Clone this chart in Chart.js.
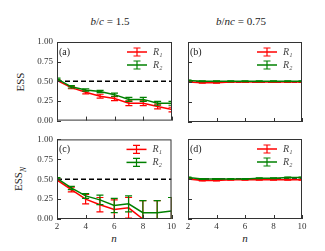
<!DOCTYPE html>
<html lang="en">
<head>
<meta charset="UTF-8">
<title>ESS panels</title>
<script src="https://cdn.jsdelivr.net/npm/chart.js"></script>
<style>
    body {
        margin: 0;
        width: 325px;
        height: 251px;
        background: #fff;
        position: relative;
        overflow: hidden;
        font-family: "Liberation Serif", "DejaVu Serif", serif;
        color: #222;
    }
    canvas { position: absolute; }
    .title {
        position: absolute;
        font-size: 11px;
        white-space: nowrap;
        transform: translate(-50%, -50%);
    }
    .ylab {
        position: absolute;
        font-size: 11px;
        white-space: nowrap;
        transform: translate(-50%, -50%) rotate(-90deg);
    }
    .ylab sub { font-size: 7.5px; }
</style>
</head>
<body>

<div class="title" style="left:110px; top:21px;"><i>b</i>/<i>c</i> = 1.5</div>
<div class="title" style="left:241px; top:21px;"><i>b</i>/<i>nc</i> = 0.75</div>
<div class="ylab" style="left:20px; top:82px;">ESS</div>
<div class="ylab" style="left:20px; top:179px;">ESS<sub><i>N</i></sub></div>
<div class="title" style="left:114px; top:238px;"><i>n</i></div>
<div class="title" style="left:245px; top:238px;"><i>n</i></div>

<canvas id="chartA" width="178" height="100" style="left:0; top:30px;"></canvas>
<canvas id="chartB" width="147" height="100" style="left:178px; top:30px;"></canvas>
<canvas id="chartC" width="178" height="121" style="left:0; top:130px;"></canvas>
<canvas id="chartD" width="147" height="121" style="left:178px; top:130px;"></canvas>

<script>
    // values
    const nValues = [2, 3, 4, 5, 6, 7, 8, 9, 10];
    const xTicks = [2, 4, 6, 8, 10];
    const yTicks = [0, 0.25, 0.5, 0.75, 1.0];
    const refLevel = 0.5;
    const seriesNames = ['R\u2081', 'R\u2082'];

    const essA_R1 = [0.51, 0.42, 0.36, 0.31, 0.28, 0.22, 0.22, 0.18, 0.14];
    const errA_R1 = [0.01, 0.015, 0.02, 0.025, 0.025, 0.03, 0.03, 0.03, 0.03];
    const essA_R2 = [0.53, 0.43, 0.39, 0.37, 0.33, 0.27, 0.27, 0.22, 0.22];
    const errA_R2 = [0.01, 0.015, 0.015, 0.015, 0.02, 0.025, 0.025, 0.025, 0.025];

    const essB_R1 = [0.50, 0.49, 0.49, 0.50, 0.50, 0.50, 0.50, 0.50, 0.50];
    const errB_R1 = [0.005, 0.005, 0.005, 0.005, 0.005, 0.005, 0.005, 0.005, 0.005];
    const essB_R2 = [0.52, 0.51, 0.51, 0.51, 0.51, 0.51, 0.51, 0.51, 0.51];
    const errB_R2 = [0.005, 0.005, 0.005, 0.005, 0.005, 0.005, 0.005, 0.005, 0.005];

    const essC_R1 = [0.49, 0.37, 0.25, 0.18, 0.12, 0.14, 0.0, 0.0, 0.0];
    const errC_R1 = [0.01, 0.03, 0.06, 0.09, 0.12, 0.13, 0.23, 0.23, 0.27];
    const essC_R2 = [0.51, 0.39, 0.29, 0.24, 0.17, 0.19, 0.08, 0.08, 0.10];
    const errC_R2 = [0.01, 0.02, 0.03, 0.06, 0.09, 0.10, 0.15, 0.15, 0.17];

    const essD_R1 = [0.50, 0.48, 0.48, 0.49, 0.49, 0.49, 0.49, 0.49, 0.49];
    const errD_R1 = [0.005, 0.005, 0.005, 0.005, 0.005, 0.005, 0.005, 0.005, 0.005];
    const essD_R2 = [0.52, 0.50, 0.50, 0.50, 0.50, 0.51, 0.51, 0.52, 0.52];
    const errD_R2 = [0.005, 0.005, 0.005, 0.005, 0.005, 0.005, 0.005, 0.005, 0.005];

    const RED = '#ff0000';
    const GREEN = '#008000';
    const SERIF = '"Liberation Serif", "DejaVu Serif", serif';
    const tickFont = { family: SERIF, size: 9 };

    function points(ys) {
        return nValues.map((n, i) => ({ x: n, y: ys[i] }));
    }

    // frame round the plot area plus inward tick marks
    const framePlugin = {
        id: 'frame',
        afterDraw(chart) {
            const { ctx, chartArea: a, scales: { x, y } } = chart;
            ctx.save();
            ctx.strokeStyle = '#333';
            ctx.lineWidth = 1;
            ctx.strokeRect(a.left + 0.5, a.top + 0.5, a.right - a.left - 1, a.bottom - a.top - 1);
            ctx.beginPath();
            x.ticks.forEach(t => {
                const px = Math.round(x.getPixelForValue(t.value)) + 0.5;
                ctx.moveTo(px, a.bottom);
                ctx.lineTo(px, a.bottom - 4);
            });
            y.ticks.forEach(t => {
                const py = Math.round(y.getPixelForValue(t.value)) + 0.5;
                ctx.moveTo(a.left, py);
                ctx.lineTo(a.left + 4, py);
            });
            ctx.stroke();
            ctx.restore();
        }
    };

    // vertical error bars with caps, drawn from each dataset's errors array
    const errorBarPlugin = {
        id: 'errorBars',
        afterDatasetDraw(chart, args) {
            const ds = chart.data.datasets[args.index];
            if (!ds.errors) return;
            const { ctx, chartArea: a, scales: { x, y } } = chart;
            ctx.save();
            ctx.beginPath();
            ctx.rect(a.left, a.top, a.right - a.left, a.bottom - a.top);
            ctx.clip();
            ctx.strokeStyle = ds.borderColor;
            ctx.lineWidth = 1.2;
            ctx.beginPath();
            ds.data.forEach((p, i) => {
                const e = ds.errors[i];
                const px = x.getPixelForValue(p.x);
                const top = y.getPixelForValue(p.y + e);
                const bot = y.getPixelForValue(p.y - e);
                ctx.moveTo(px, top);
                ctx.lineTo(px, bot);
                ctx.moveTo(px - 3.5, top);
                ctx.lineTo(px + 3.5, top);
                ctx.moveTo(px - 3.5, bot);
                ctx.lineTo(px + 3.5, bot);
            });
            ctx.stroke();
            ctx.restore();
        }
    };

    // legend inside the top right corner, plus the panel letter
    const legendPlugin = {
        id: 'insideLegend',
        afterDraw(chart, args, opts) {
            const { ctx, chartArea: a } = chart;
            ctx.save();
            ctx.font = '10px ' + SERIF;
            ctx.fillStyle = '#222';
            ctx.textBaseline = 'middle';
            ctx.textAlign = 'left';
            ctx.fillText(opts.letter, a.left + 2, a.top + 10);

            const items = chart.data.datasets.filter(d => d.errors);
            items.forEach((d, i) => {
                const yy = a.top + 10 + i * 13;
                const x0 = a.right - 45, x1 = a.right - 25, xm = (x0 + x1) / 2;
                ctx.strokeStyle = d.borderColor;
                ctx.lineWidth = 1.5;
                ctx.beginPath();
                ctx.moveTo(x0, yy);
                ctx.lineTo(x1, yy);
                ctx.stroke();
                ctx.lineWidth = 1.2;
                ctx.beginPath();
                ctx.moveTo(xm, yy - 4);
                ctx.lineTo(xm, yy + 4);
                ctx.moveTo(xm - 3.5, yy - 4);
                ctx.lineTo(xm + 3.5, yy - 4);
                ctx.moveTo(xm - 3.5, yy + 4);
                ctx.lineTo(xm + 3.5, yy + 4);
                ctx.stroke();
                ctx.font = 'italic 10px ' + SERIF;
                ctx.fillStyle = '#444';
                ctx.fillText(d.label, a.right - 19, yy);
            });
            ctx.restore();
        }
    };

    function makePanel(id, letter, r1, e1, r2, e2, opt) {
        const ctx = document.getElementById(id).getContext('2d');
        return new Chart(ctx, {
            type: 'line',
            data: {
                datasets: [
                    {
                        data: [{ x: nValues[0], y: refLevel }, { x: nValues[nValues.length - 1], y: refLevel }],
                        borderColor: '#000',
                        borderWidth: 1.5,
                        borderDash: [5, 3],
                        pointRadius: 0,
                        order: 3
                    },
                    {
                        label: seriesNames[0],
                        data: points(r1),
                        errors: e1,
                        borderColor: RED,
                        borderWidth: 1.5,
                        pointRadius: 0,
                        order: 2
                    },
                    {
                        label: seriesNames[1],
                        data: points(r2),
                        errors: e2,
                        borderColor: GREEN,
                        borderWidth: 1.5,
                        pointRadius: 0,
                        order: 1
                    }
                ]
            },
            options: {
                responsive: false,
                animation: false,
                events: [],
                layout: { padding: opt.padding },
                plugins: {
                    legend: { display: false },
                    tooltip: { enabled: false },
                    insideLegend: { letter: letter }
                },
                scales: {
                    x: {
                        type: 'linear',
                        min: 2,
                        max: 10,
                        afterBuildTicks: s => { s.ticks = xTicks.map(v => ({ value: v })); },
                        ticks: { display: opt.xLabels, font: tickFont, color: '#333', padding: 2 },
                        grid: { display: false, drawTicks: false },
                        border: { display: false },
                        afterFit: s => { s.height = opt.xHeight; }
                    },
                    y: {
                        min: 0,
                        max: 1,
                        afterBuildTicks: s => { s.ticks = yTicks.map(v => ({ value: v })); },
                        ticks: {
                            display: opt.yLabels,
                            font: tickFont,
                            color: '#333',
                            padding: 4,
                            callback: v => Number(v).toFixed(2)
                        },
                        grid: { display: false, drawTicks: false },
                        border: { display: false },
                        afterFit: s => { s.width = opt.yWidth; }
                    }
                }
            },
            plugins: [framePlugin, errorBarPlugin, legendPlugin]
        });
    }

    makePanel('chartA', '(a)', essA_R1, errA_R1, essA_R2, errA_R2,
        { padding: { top: 12, right: 6, bottom: 8, left: 0 }, xLabels: false, yLabels: true, xHeight: 0, yWidth: 57 });
    makePanel('chartB', '(b)', essB_R1, errB_R1, essB_R2, errB_R2,
        { padding: { top: 12, right: 23, bottom: 8, left: 0 }, xLabels: false, yLabels: false, xHeight: 0, yWidth: 10 });
    makePanel('chartC', '(c)', essC_R1, errC_R1, essC_R2, errC_R2,
        { padding: { top: 9, right: 6, bottom: 0, left: 0 }, xLabels: true, yLabels: true, xHeight: 32, yWidth: 57 });
    makePanel('chartD', '(d)', essD_R1, errD_R1, essD_R2, errD_R2,
        { padding: { top: 9, right: 23, bottom: 0, left: 0 }, xLabels: true, yLabels: false, xHeight: 32, yWidth: 10 });
</script>
</body>
</html>
